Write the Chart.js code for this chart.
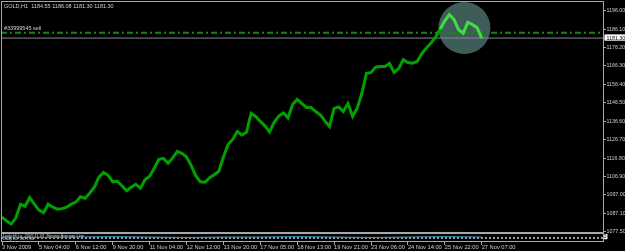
<!DOCTYPE html>
<html>
<head>
<meta charset="utf-8">
<script src="https://cdn.jsdelivr.net/npm/chart.js@4.4.1/dist/chart.umd.min.js"></script>
<style>
  html, body { margin: 0; padding: 0; background: #000; }
  #GoldChart { display: block; }
</style>
</head>
<body>
<canvas id="GoldChart" width="625" height="251"></canvas>
<script>
// GOLD H1, precio de cierre (un punto cada 4 barras)
var closes = [
  1085.0, 1082.9, 1081.3, 1084.7, 1092.0, 1090.9, 1095.5, 1092.0, 1088.8, 1087.4,
  1092.0, 1090.4, 1089.3, 1089.6, 1090.4, 1092.0, 1093.1, 1096.0, 1095.2, 1097.9,
  1101.1, 1106.5, 1109.1, 1107.5, 1104.0, 1104.3, 1101.9, 1099.2, 1101.1, 1102.7,
  1100.6, 1105.1, 1107.0, 1111.3, 1116.1, 1116.6, 1114.0, 1116.9, 1120.4, 1119.3,
  1117.4, 1112.9, 1107.3, 1104.0, 1103.8, 1106.2, 1107.8, 1109.7, 1117.4, 1124.1,
  1126.8, 1131.1, 1129.2, 1130.6, 1140.8, 1139.2, 1136.5, 1134.1, 1130.9, 1136.0,
  1139.4, 1141.0, 1138.4, 1145.6, 1148.3, 1146.1, 1144.0, 1144.0, 1141.8, 1140.0,
  1136.8, 1133.8, 1143.5, 1144.3, 1141.8, 1146.1, 1139.2, 1143.5, 1151.5, 1162.2,
  1162.8, 1165.7, 1166.0, 1166.0, 1167.6, 1162.8, 1164.9, 1169.7, 1168.1, 1167.8,
  1168.7, 1172.9, 1175.9, 1178.6, 1181.8, 1186.1, 1190.6, 1193.9, 1191.2, 1185.8,
  1183.9, 1189.8, 1188.5, 1186.9, 1181.3
];
var barsPerPoint = 4;

var dateLabels = ['3 Nov 2009', '5 Nov 04:00', '6 Nov 12:00', '9 Nov 20:00', '11 Nov 04:00',
  '12 Nov 12:00', '13 Nov 20:00', '17 Nov 05:00', '18 Nov 13:00', '19 Nov 21:00',
  '23 Nov 06:00', '24 Nov 14:00', '25 Nov 22:00', '27 Nov 07:00'];
var barsPerLabel = 32;

var priceTicks = [1196.00, 1186.10, 1176.20, 1166.30, 1156.40, 1146.50, 1136.60,
  1126.70, 1116.80, 1106.90, 1097.00, 1087.10, 1077.50];
var bidPrice = 1181.30;
var orderPrice = 1184.2;
var orderLabel = '#33999545 sell';
var headerText = 'GOLD,H1  1184.55 1186.08 1181.30 1181.30';

// zona resaltada (círculo)
var focusBar = 401;
var focusPrice = 1186.7;
var focusFrom = 378;

// subventana del indicador
var oscValues = [0.55, 0.5, 0.55, 0.6, 0.55, 0.5, 0.55, 0.55, 0.6, 0.55, 0.5, 0.55, 0.6, 0.55];
var subText = ['Daily Hi Lo  2009.11.03  Moving Average Line', 'Daily Lo  1077.50'];

// escala: barras y precios
var xMin = -0.9, xMax = 521.2;
var yMin = 1076.51, yMax = 1201.21;

var frameColor = '#a8a8a8';
var textColor = '#d0d0d0';

var mt4Frame = {
    id: 'mt4Frame',
    beforeDraw: function(chart) {
        var c = chart.ctx;
        c.save();
        c.fillStyle = '#000';
        c.fillRect(0, 0, chart.width, chart.height);
        c.restore();
    },
    afterDatasetsDraw: function(chart) {
        var c = chart.ctx;
        var a = chart.chartArea;
        var y = chart.scales.y, y2 = chart.scales.y2;
        c.save();
        c.strokeStyle = frameColor;
        c.lineWidth = 1;
        c.strokeRect(a.left + 0.5, y.top + 0.5, a.right - a.left, y.bottom - y.top - 1);
        c.strokeRect(a.left + 0.5, y2.top + 0.5, a.right - a.left, y2.bottom - y2.top - 1);

        c.fillStyle = textColor;
        c.textBaseline = 'middle';
        c.font = '5.5px "Liberation Sans"';
        c.fillText(headerText, a.left + 3, y.top + 5);
        c.fillText(orderLabel, a.left + 3, y.getPixelForValue(orderPrice) - 4);
        c.font = '4px "Liberation Sans"';
        c.fillText(subText[0], a.left + 2, y2.top + 3);
        c.fillText(subText[1], a.left + 2, y2.top + 6);
        c.restore();
    }
};

var ctx = document.getElementById('GoldChart').getContext('2d');
var GoldChart = new Chart(ctx, {
    type: 'line',
    data: {
        datasets: [{
            // círculo de resalte
            data: [{x: focusBar, y: focusPrice}],
            showLine: false,
            pointRadius: 26,
            pointBorderWidth: 0,
            pointBackgroundColor: '#3e5c58',
            yAxisID: 'y',
            clip: false,
            order: 5
        }, {
            data: closes.map(function(v, i) { return {x: i * barsPerPoint, y: v}; }),
            borderColor: '#00a000',
            borderWidth: 3,
            pointRadius: 0,
            tension: 0,
            yAxisID: 'y',
            order: 1,
            segment: {
                borderColor: function(c) { return c.p0.parsed.x >= focusFrom ? '#3ee03e' : undefined; }
            }
        }, {
            data: [{x: xMin, y: orderPrice}, {x: xMax, y: orderPrice}],
            borderColor: '#1c821c',
            borderWidth: 2,
            borderDash: [6, 3, 2, 3],
            pointRadius: 0,
            yAxisID: 'y',
            order: 2
        }, {
            data: [{x: xMin, y: bidPrice}, {x: xMax, y: bidPrice}],
            borderColor: '#7f8a93',
            borderWidth: 1,
            pointRadius: 0,
            yAxisID: 'y',
            order: 3
        }, {
            data: [{x: xMin, y: 0.45}, {x: xMax, y: 0.45}],
            borderColor: '#9aa0a8',
            borderWidth: 2,
            borderDash: [2, 2],
            pointRadius: 0,
            yAxisID: 'y2',
            order: 4
        }, {
            data: oscValues.map(function(v, i) { return {x: i * barsPerLabel, y: v}; }),
            borderColor: '#3399cc',
            borderWidth: 1,
            pointRadius: 0,
            yAxisID: 'y2',
            order: 1
        }]
    },
    options: {
        responsive: false,
        animation: false,
        devicePixelRatio: 1,
        events: [],
        layout: { autoPadding: false, padding: { left: 1, top: 1, right: 0, bottom: 0 } },
        plugins: { legend: { display: false }, tooltip: { enabled: false } },
        scales: {
            x: {
                type: 'linear',
                position: 'bottom',
                min: xMin,
                max: xMax,
                afterBuildTicks: function(s) {
                    s.ticks = dateLabels.map(function(_, k) { return {value: k * barsPerLabel}; });
                },
                afterFit: function(s) { s.height = 9; s.paddingLeft = 0; s.paddingRight = 0; },
                ticks: {
                    autoSkip: false,
                    maxRotation: 0,
                    align: 'start',
                    padding: 0,
                    color: textColor,
                    font: { family: 'Liberation Sans', size: 5.7, lineHeight: 1 },
                    callback: function(v, i) { return dateLabels[i]; }
                },
                grid: { drawOnChartArea: false, tickLength: 3, color: frameColor },
                border: { display: false }
            },
            y: {
                type: 'linear',
                position: 'right',
                stack: 'mt4',
                stackWeight: 232,
                min: yMin,
                max: yMax,
                afterBuildTicks: function(s) {
                    s.ticks = priceTicks.concat([bidPrice]).map(function(v) { return {value: v}; });
                },
                afterFit: function(s) { s.width = 22; s.paddingTop = 0; s.paddingBottom = 0; },
                ticks: {
                    padding: 0.5,
                    color: function(c) { return c.tick && c.tick.value === bidPrice ? '#000' : textColor; },
                    showLabelBackdrop: function(c) { return !!(c.tick && c.tick.value === bidPrice); },
                    backdropColor: '#fff',
                    backdropPadding: { left: 2, right: 3, top: 1, bottom: 0 },
                    font: { family: 'Liberation Sans', size: 5.3, lineHeight: 1 },
                    callback: function(v) { return v.toFixed(2); }
                },
                grid: { drawOnChartArea: false, tickLength: 3, color: frameColor },
                border: { display: false }
            },
            y2: {
                type: 'linear',
                position: 'right',
                stack: 'mt4',
                stackWeight: 9,
                min: 0,
                max: 1,
                afterBuildTicks: function(s) { s.ticks = [{value: 0.6}]; },
                afterFit: function(s) { s.width = 22; s.paddingTop = 0; s.paddingBottom = 0; },
                ticks: {
                    padding: 0.5,
                    color: '#000',
                    showLabelBackdrop: true,
                    backdropColor: '#fff',
                    backdropPadding: { left: 1, right: 1, top: 0, bottom: 0 },
                    font: { family: 'Liberation Sans', size: 5.3, lineHeight: 1 },
                    callback: function() { return '0'; }
                },
                grid: { drawOnChartArea: false, drawTicks: false },
                border: { display: false }
            }
        }
    },
    plugins: [mt4Frame]
});
</script>
</body>
</html>
